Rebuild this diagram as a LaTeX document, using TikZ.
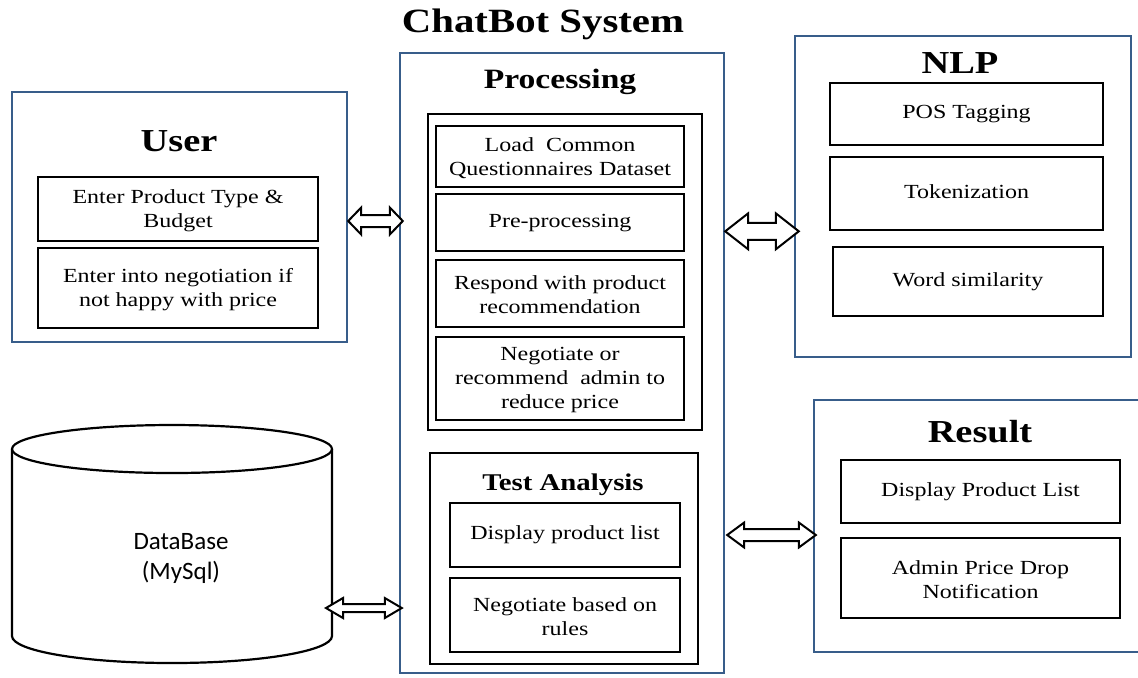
\documentclass[tikz,border=0pt]{standalone}
\usepackage{fontspec}
\setmainfont{Liberation Serif}[FakeStretch=1.2]
\newfontfamily\dbfont{Carlito}
\usetikzlibrary{positioning, fit, calc}
\definecolor{myblue}{RGB}{56,93,138}
\tikzset{
  outerbox/.style={draw=myblue, line width=1.2pt, inner sep=0, fit={#1}},
  groupbox/.style={draw=black, line width=1.3pt, inner sep=0, fit={#1}},
  itembox/.style 2 args={draw=black, line width=1.3pt, inner sep=0, align=center,
    minimum width=#1, minimum height=#2, font=\fontsize{10}{12}\selectfont},
  heading/.style={anchor=base, font=\fontsize{16}{18}\selectfont\bfseries},
  dblarrow/.style n args={3}{draw=black, fill=white, line width=1pt, line join=miter,
    to path={let \p1=(\tikztostart), \p2=(\tikztotarget) in
      (\x1,\y1) -- (\x1+#1,\y1+#2) -- (\x1+#1,\y1+#3) -- (\x2-#1,\y1+#3)
      -- (\x2-#1,\y1+#2) -- (\x2,\y1) -- (\x2-#1,\y1-#2) -- (\x2-#1,\y1-#3)
      -- (\x1+#1,\y1-#3) -- (\x1+#1,\y1-#2) -- cycle}}
}

\begin{document}
\begin{tikzpicture}[x=0.5pt, y=-0.5pt]
\useasboundingbox (0,0) rectangle (1138,677);

\node [heading, font=\fontsize{17}{19}\selectfont\bfseries] (title) at (543,32) {ChatBot System};

% User
\node [outerbox={(12,92) (347,342)}] (user) {};
\node [heading] (usert) at (179,151) {User};
\node [itembox={140pt}{32pt}] (u1) at (178,209) {\strut Enter Product Type \&\\Budget};
\node [itembox={140pt}{40pt}] (u2) at (178,288) {\strut Enter into negotiation if\\not happy with price};

% Processing
\node [outerbox={(400,53) (724,673)}] (proc) {};
\node [heading, font=\fontsize{14}{16}\selectfont\bfseries] (proct) at (560,88) {Processing};
\node [groupbox={(428,114) (702,430)}] (pgroup) {};
\node [itembox={124pt}{30.5pt}] (p1) at (560,156.5) {\strut Load\ \ Common\\Questionnaires Dataset};
\node [itembox={124pt}{28.5pt}] (p2) at (560,222.5) {\strut Pre-processing};
\node [itembox={124pt}{33.5pt}] (p3) at (560,293.5) {\strut Respond with product\\recommendation};
\node [itembox={124pt}{41.5pt}] (p4) at (560,378.5) {\strut Negotiate or\\recommend\ \ admin to\\reduce price};

\node [groupbox={(430,453) (698,664)}] (tgroup) {};
\node [heading, font=\fontsize{12}{14}\selectfont\bfseries] (testt) at (563,490) {Test Analysis};
\node [itembox={115pt}{32pt}] (t1) at (565,535) {\strut Display product list};
\node [itembox={115pt}{37pt}] (t2) at (565,615) {\strut Negotiate based on\\rules};

% NLP
\node [outerbox={(795,36) (1131,357)}] (nlp) {};
\node [heading] (nlpt) at (960,73) {NLP};
\node [itembox={136.5pt}{31pt}] (n1) at (966.5,114) {\strut POS Tagging};
\node [itembox={136.5pt}{36.5pt}] (n2) at (966.5,193.5) {\strut Tokenization};
\node [itembox={135pt}{34.5pt}] (n3) at (968,281.5) {\strut Word similarity};

% Result
\node [outerbox={(814,400) (1145,652)}] (result) {};
\node [heading] (resultt) at (980,442) {Result};
\node [itembox={139.5pt}{31.5pt}] (r1) at (980.5,491.5) {\strut Display Product List};
\node [itembox={139.5pt}{40pt}] (r2) at (980.5,578) {\strut Admin Price Drop\\Notification};

% DataBase
\draw [line width=1.1pt] (172,449) ellipse [x radius=160, y radius=24];
\draw [line width=1.1pt] (12,449) -- (12,636)
  arc [start angle=180, end angle=0, x radius=160, y radius=27] -- (332,449);
\node [align=center, font=\dbfont\fontsize{12.5}{15}\selectfont] (db) at (181,558) {DataBase\\(MySql)};
\coordinate (dbr) at (326,608);

% connectors
\draw [dblarrow={6.5pt}{6.75pt}{3pt}] ([yshift=-2pt]user.east) to ([xshift=2pt]proc.west);
\draw [dblarrow={11.5pt}{9pt}{4.25pt}] (proc.east |- n2.south) to ([xshift=2.5pt]nlp.west);
\draw [dblarrow={8.5pt}{5pt}{2pt}] (dbr) to ([xshift=1.5pt]proc.west |- dbr);
\draw [dblarrow={8.5pt}{6.25pt}{3pt}] ([xshift=1pt]proc.east |- t1.center) to ([xshift=1.5pt]result.west);

\end{tikzpicture}
\end{document}
